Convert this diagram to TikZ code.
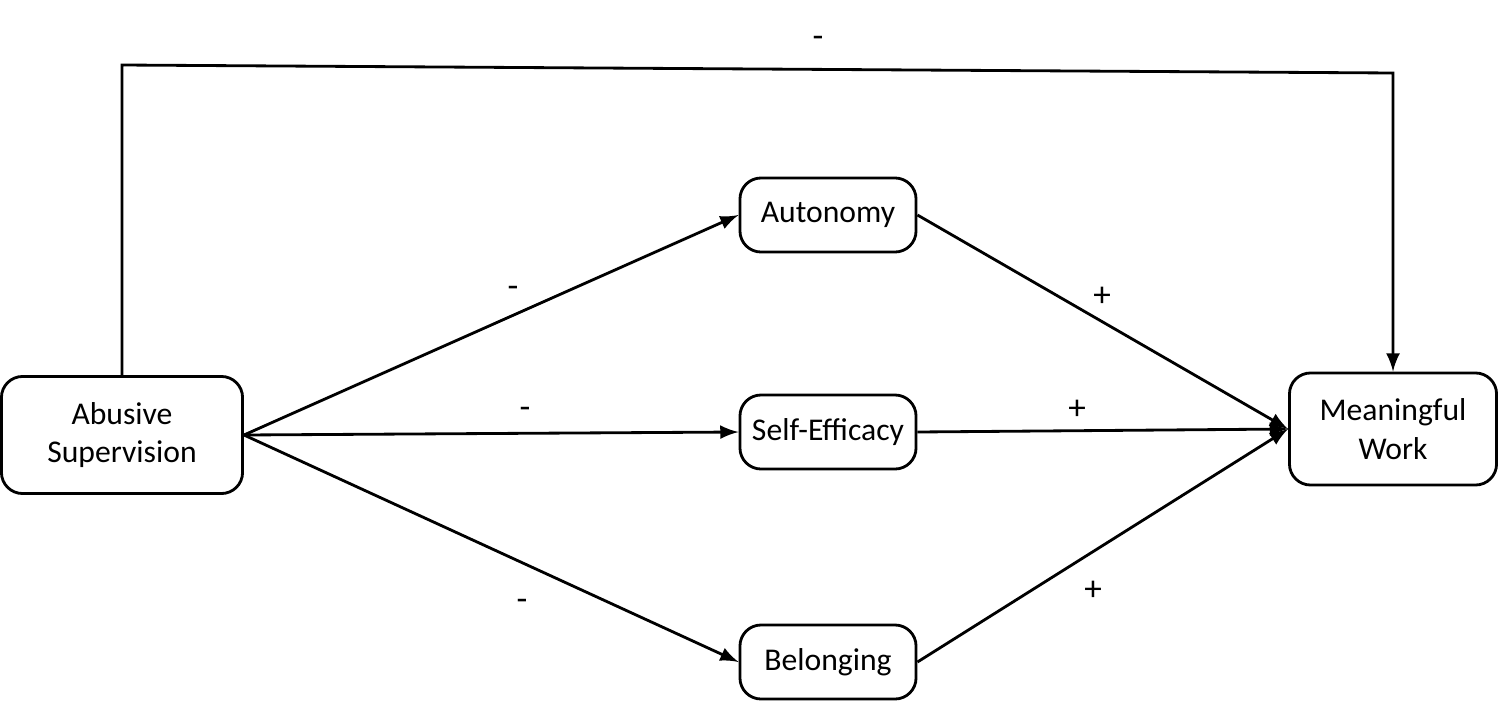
\documentclass[tikz,border=0pt]{standalone}
\usepackage{fontspec}
\setmainfont{Carlito}
\usetikzlibrary{arrows}
\tikzstyle{box} = [draw,thick,rounded corners=6pt,align=center,font=\fontsize{9}{11}\selectfont]
\tikzstyle{arrow} = [thick,-latex]
\tikzstyle{sign} = [font=\fontsize{10}{12}\selectfont]
\begin{document}
\begin{tikzpicture}[x=0.01cm,y=-0.01cm]
	\useasboundingbox (0,0) rectangle (1500,703);
	
	% Boxes:
	\node [box,minimum width=2.41cm,minimum height=1.17cm] (abuse) at (122,435) {Abusive\\Supervision};
	\node [box,minimum width=1.76cm,minimum height=0.74cm] (auto) at (828,215) {Autonomy};
	\node [box,minimum width=1.76cm,minimum height=0.74cm] (self) at (828,432) {Self-Efficacy};
	\node [box,minimum width=1.76cm,minimum height=0.74cm] (belong) at (828,662) {Belonging};
	\node [box,minimum width=2.07cm,minimum height=1.12cm] (work) at (1393,429) {Meaningful\\Work};
	
	% Direct path:
	\coordinate (c1) at (122,65);
	\coordinate (c2) at (1393,73);
	\draw [arrow] (abuse.north) -- (c1) -- (c2) -- (work.north);
	\node [sign] (s0) at (818,42) {-};
	
	% Mediators:
	\draw [arrow] (abuse.east) -- (auto.west);
	\draw [arrow] (abuse.east) -- (self.west);
	\draw [arrow] (abuse.east) -- (belong.west);
	\draw [arrow] (auto.east) -- (work.west);
	\draw [arrow] (self.east) -- (work.west);
	\draw [arrow] (belong.east) -- (work.west);
	
	% Signs:
	\node [sign] (s1) at (513,292) {-};
	\node [sign] (s2) at (525,413) {-};
	\node [sign] (s3) at (522,605) {-};
	\node [sign] (s4) at (1102,297) {+};
	\node [sign] (s5) at (1077,410) {+};
	\node [sign] (s6) at (1093,591) {+};
\end{tikzpicture}
\end{document}
